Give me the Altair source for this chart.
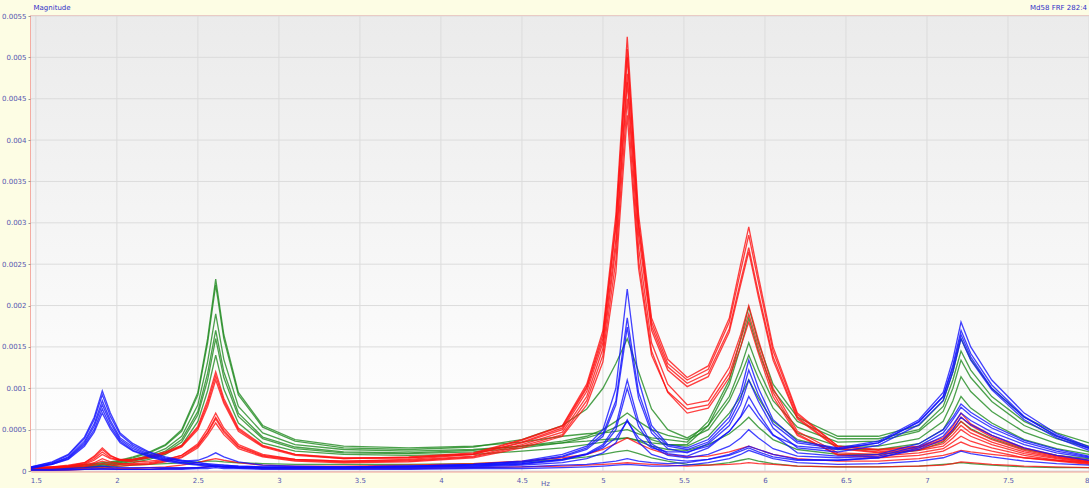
import altair as alt
import pandas as pd

# Frequency grid (Hz), denser around the resonances
freq = [1.47, 1.6, 1.7, 1.8, 1.86, 1.91, 1.96, 2.02, 2.1, 2.2,
        2.3, 2.4, 2.5, 2.56, 2.61, 2.66, 2.75, 2.9, 3.1, 3.4,
        3.8, 4.2, 4.5, 4.75, 4.9, 5.0, 5.08, 5.15, 5.22, 5.3,
        5.4, 5.52, 5.65, 5.78, 5.85, 5.9, 5.96, 6.05, 6.2, 6.45,
        6.7, 6.95, 7.1, 7.16, 7.21, 7.27, 7.4, 7.6, 7.8, 8.0]

# FRF magnitudes in units of 1e-4, one list per measurement channel
red = {
    "R1": [0.4,0.5,0.7,1.0,1.7,2.6,1.8,1.4,1.4,1.7,2.2,3.0,5.2,8.2,11.5,8.5,5.0,3.0,2.0,1.5,1.7,2.2,3.8,5.5,10.5,17,31,52.5,31,18.5,13.5,11.3,12.7,18.5,25,29.5,23.5,15,7,3.0,2.6,3.0,4.0,5.4,7.0,5.7,4.3,2.8,1.9,1.3],
    "R2": [0.4,0.5,0.6,0.9,1.5,2.3,1.6,1.3,1.3,1.6,2.1,2.9,5.0,7.8,11.0,8.2,4.8,2.9,1.9,1.5,1.6,2.1,3.7,5.4,10.2,16.5,30,51,30,18,13,11,12.3,18,24.2,28.5,22.8,14.5,6.8,3.0,2.5,2.9,3.8,5.1,6.5,5.5,4.1,2.7,1.8,1.2],
    "R3": [0.3,0.4,0.6,1.0,1.8,2.8,1.9,1.3,1.1,1.2,1.4,1.9,3.1,4.7,6.5,4.9,3.0,1.9,1.4,1.2,1.4,2.0,3.5,5.2,10,16,29.5,50,29.5,17.5,12.6,10.6,11.8,17.2,23,27,21.5,13.8,6.5,2.8,2.3,2.8,3.6,4.8,6.0,5.0,3.8,2.5,1.7,1.1],
    "R4": [0.4,0.5,0.6,0.8,1.3,2.0,1.5,1.3,1.4,1.8,2.3,3.1,5.4,8.6,12,8.8,5.2,3.1,2.0,1.6,1.6,2.0,3.4,5.0,9.6,15.5,28,48,28.5,17,12.2,10.2,11.4,16.8,22.5,26.5,21,13.4,6.3,2.7,2.2,2.6,3.3,4.4,5.5,4.6,3.5,2.3,1.6,1.1],
    "R5": [0.3,0.4,0.5,0.7,1.0,1.5,1.1,0.9,0.9,1.0,1.3,1.9,3.3,5.1,7.0,5.2,3.2,2.0,1.4,1.2,1.3,1.8,3.2,4.7,9,14.8,27,47,27,15.5,10.5,8.0,8.5,12.5,16.5,20,15.8,10,4.8,2.2,2.0,2.5,3.0,4.0,5.0,4.2,3.2,2.1,1.5,1.0],
    "R6": [0.3,0.3,0.4,0.6,0.9,1.2,0.9,0.8,0.8,0.9,1.2,1.7,3.0,4.6,6.3,4.7,2.9,1.8,1.3,1.1,1.2,1.7,3.0,4.4,8.5,14,25.5,45,25.5,14.5,9.5,7.0,7.6,11.3,15,18,14.2,9,4.3,2.0,1.8,2.2,2.7,3.5,4.2,3.6,2.8,1.9,1.3,0.9],
    "R7": [0.2,0.3,0.4,0.5,0.7,0.9,0.7,0.6,0.7,0.8,1.1,1.6,2.8,4.3,5.8,4.4,2.7,1.7,1.2,1.0,1.1,1.6,2.8,4.2,8,13.2,24,43,24.5,14,9.6,7.5,8.0,11.8,15.8,19,15,9.5,4.5,1.9,1.6,1.9,2.4,3.0,3.5,3.0,2.4,1.6,1.2,0.8],
    "R8": [0.1,0.1,0.2,0.3,0.4,0.5,0.4,0.3,0.3,0.4,0.5,0.7,1.0,1.3,1.5,1.3,1.0,0.7,0.6,0.6,0.7,0.9,1.2,1.6,2.0,2.6,3.3,4.0,3.3,2.6,2.0,1.7,1.8,2.3,2.7,3.0,2.6,2.0,1.5,1.2,1.2,1.5,1.9,2.2,2.5,2.3,2.0,1.6,1.3,1.0],
    "R9": [0.1,0.1,0.1,0.2,0.2,0.3,0.2,0.2,0.2,0.2,0.3,0.3,0.4,0.5,0.6,0.5,0.4,0.3,0.3,0.3,0.3,0.4,0.5,0.6,0.7,0.8,0.9,1.0,0.9,0.8,0.7,0.6,0.7,0.8,0.9,1.0,0.9,0.8,0.6,0.5,0.5,0.6,0.7,0.9,1.1,1.0,0.8,0.6,0.5,0.4],
}

green = {
    "G1": [0.3,0.4,0.6,0.8,0.9,1.0,1.1,1.3,1.7,2.3,3.2,5,9.5,16,23.2,16.5,9.5,5.5,3.8,3.0,2.8,3.0,3.5,4.2,4.5,4.6,4.8,5.0,4.5,4.0,3.8,3.5,6.0,11,16,19.8,15.5,10.5,6.5,4.2,4.2,5.5,8.5,12,16,13.5,10,6.5,4.6,3.4],
    "G2": [0.3,0.4,0.5,0.7,0.8,0.9,1.0,1.2,1.6,2.2,3.1,4.8,9.2,15.5,22.5,16,9.2,5.3,3.6,2.8,2.6,2.9,3.8,5.5,7.5,10,13,16,12,7.5,5.0,4.0,5.5,9,12.5,15.5,12.3,8.5,5.3,3.5,3.6,4.8,7.2,10,13.4,11.3,8.4,5.5,3.9,2.8],
    "G3": [0.2,0.3,0.5,0.6,0.7,0.8,0.9,1.1,1.4,1.9,2.7,4.2,8,13.2,19,13.5,7.8,4.6,3.2,2.6,2.4,2.6,3.0,3.4,3.6,3.8,3.9,4.0,3.7,3.4,3.2,3.2,5.5,10.5,15,18.5,14.5,9.8,6.0,3.9,3.9,5.0,7.8,11,14.5,12.2,9,6,4.2,3.0],
    "G4": [0.2,0.3,0.4,0.5,0.6,0.7,0.8,1.0,1.3,1.7,2.4,3.8,7.2,11.8,17,12,7.0,4.1,2.9,2.3,2.2,2.5,3.0,3.6,4.2,5.0,6.0,7.0,6.0,5.0,4.3,3.8,5.0,8.5,11.5,14,11.2,7.6,4.6,3.0,3.0,3.9,6,8.5,11.4,9.6,7.2,4.7,3.3,2.3],
    "G5": [0.2,0.3,0.4,0.5,0.6,0.6,0.7,0.9,1.2,1.6,2.2,3.5,6.8,11,16,11.3,6.6,3.9,2.7,2.2,2.1,2.3,2.8,3.4,4.0,4.6,5.3,6.0,4.8,3.8,3.2,3.0,4.2,7,9,11,8.8,6.0,3.8,2.6,2.6,3.3,5,7,9,7.6,5.8,3.8,2.7,2.0],
    "G6": [0.2,0.2,0.3,0.4,0.5,0.5,0.6,0.8,1.0,1.4,2.0,3.1,6,9.7,14,9.9,5.8,3.4,2.4,2.0,1.9,2.0,2.4,2.8,3.2,3.5,3.8,4.0,3.6,3.0,2.6,2.5,3.2,4.5,5.6,6.5,5.3,3.8,2.6,2.0,2.0,2.5,3.5,4.8,6,5.1,3.9,2.6,1.9,1.5],
    "G7": [0.3,0.3,0.4,0.4,0.5,0.5,0.5,0.6,0.7,0.8,0.9,1.0,1.1,1.2,1.2,1.1,1.0,0.9,0.8,0.8,0.8,0.9,1.1,1.4,1.7,2.0,2.3,2.5,2.1,1.6,1.2,0.8,0.7,1.0,1.3,1.5,1.2,0.9,0.6,0.5,0.5,0.6,0.8,0.9,1.0,0.9,0.7,0.5,0.4,0.4],
}

blue = {
    "B1": [0.5,1.1,2.0,4.1,6.5,9.7,7.0,4.6,3.3,2.3,1.7,1.3,1.0,0.9,0.8,0.7,0.6,0.5,0.5,0.5,0.6,0.8,1.2,2.0,3.0,5.0,10,22,11,5.5,3.2,2.8,3.8,6.5,9.5,13.4,10,6.2,3.6,2.8,3.6,6.2,9.5,13.5,18,15,11,7,4.5,2.9],
    "B2": [0.5,1.0,1.9,3.9,6.2,9.2,6.6,4.4,3.1,2.2,1.6,1.2,1.0,0.8,0.7,0.7,0.6,0.5,0.5,0.5,0.6,0.8,1.1,1.8,2.8,4.5,8.5,18.5,9.5,5.0,3.0,2.6,3.5,6.0,8.7,12.2,9.2,5.7,3.4,2.7,3.4,5.9,9,12.8,17,14.2,10.4,6.6,4.2,2.7],
    "B3": [0.4,0.9,1.7,3.6,5.7,8.5,6.1,4.0,2.9,2.0,1.5,1.2,1.3,1.7,2.2,1.7,1.1,0.7,0.6,0.5,0.6,0.7,1.0,1.7,2.6,4.2,8,17.4,8.8,4.6,2.7,2.2,3.3,5.5,8,11,8.4,5.2,2.8,2.3,3.1,5.6,8.5,12,16,13.4,9.8,6.2,4.0,2.5],
    "B4": [0.4,0.9,1.6,3.4,5.4,8.0,5.8,3.8,2.7,1.9,1.4,1.0,0.8,0.7,0.6,0.6,0.5,0.4,0.4,0.4,0.5,0.7,0.9,1.4,2.1,3.2,5.5,11,6,3.3,2.1,1.8,2.8,4.8,6.6,9,7,4.4,2.2,1.8,2.0,3.3,5,6.5,8.1,7.1,5.5,3.7,2.6,1.8],
    "B5": [0.4,0.8,1.5,3.2,5.0,7.5,5.4,3.6,2.5,1.8,1.3,1.0,0.8,0.7,0.6,0.5,0.5,0.4,0.4,0.4,0.5,0.6,0.8,1.3,2.0,3.0,5.0,10,5.4,3.0,1.9,1.6,2.0,3.0,4.0,5.0,4.0,2.7,1.8,1.6,1.8,3.0,4.6,6.2,7.7,6.7,5.2,3.5,2.4,1.7],
    "B6": [0.3,0.8,1.4,3.0,4.7,7.0,5.1,3.4,2.4,1.7,1.2,0.9,0.7,0.6,0.5,0.5,0.4,0.4,0.4,0.4,0.4,0.5,0.7,1.0,1.5,2.2,3.4,6.2,3.5,2.0,1.4,1.2,1.4,1.9,2.4,2.8,2.3,1.7,1.3,1.3,1.6,2.8,4.2,5.6,7.0,6.1,4.7,3.2,2.2,1.6],
    "B7": [0.2,0.2,0.3,0.4,0.5,0.6,0.5,0.4,0.4,0.4,0.4,0.4,0.4,0.5,0.6,0.5,0.4,0.4,0.4,0.4,0.5,0.6,0.9,1.4,2.0,2.8,4.0,6.0,4.0,2.8,2.3,2.3,3.0,4.8,6.5,8.0,6.4,4.3,3.0,2.6,3.4,6.0,9,12.5,16.5,13.8,10,6.5,4.3,2.8],
    "B8": [0.1,0.1,0.2,0.2,0.3,0.3,0.3,0.2,0.2,0.2,0.3,0.3,0.4,0.5,0.6,0.5,0.4,0.3,0.3,0.3,0.3,0.4,0.5,0.7,0.8,1.0,1.2,1.5,1.2,1.0,0.9,1.0,1.4,2.0,2.6,3.0,2.6,2.0,1.4,1.3,1.6,2.6,3.8,5.0,6.5,5.6,4.3,2.8,1.9,1.3],
    "B9": [0.1,0.1,0.1,0.2,0.2,0.2,0.2,0.2,0.2,0.2,0.2,0.2,0.3,0.3,0.4,0.3,0.3,0.2,0.2,0.2,0.2,0.3,0.3,0.4,0.5,0.6,0.7,0.8,0.7,0.6,0.6,0.7,1.0,1.5,2.0,2.5,2.1,1.5,1.0,0.8,0.9,1.2,1.6,2.0,2.4,2.1,1.7,1.2,0.9,0.7],
}

x_ticks = [1.5, 2, 2.5, 3, 3.5, 4, 4.5, 5, 5.5, 6, 6.5, 7, 7.5, 8]
y_ticks = [0, 0.0005, 0.001, 0.0015, 0.002, 0.0025, 0.003, 0.0035,
           0.004, 0.0045, 0.005, 0.0055]

W, H = 1058, 455
X_DOM = [1.47, 8.0]
Y_DOM = [0, 0.0055]

groups = [("green", "#1f8a1f", green), ("red", "#ff1010", red), ("blue", "#1010ff", blue)]

x_scale = alt.Scale(domain=X_DOM, nice=False, zero=False)
y_scale = alt.Scale(domain=Y_DOM, nice=False)

label_color = "#5555b0"
x_axis = alt.Axis(values=x_ticks, labelExpr="format(datum.value, '~g')", grid=False,
                  domainColor="#f2a29a", domainWidth=2, tickSize=0, labelPadding=5,
                  labelFontSize=7, labelColor=label_color, labelFont="DejaVu Sans",
                  title="Hz", titleFontSize=7, titleColor=label_color, titleFont="DejaVu Sans",
                  titleFontWeight="normal", titleX=514, titleY=14, titleAlign="center",
                  titleBaseline="alphabetic")
y_axis = alt.Axis(values=y_ticks, labelExpr="format(datum.value, '~g')", grid=False,
                  domainColor="#f2a29a", domainWidth=2, tickSize=3, tickColor="#999999",
                  labelPadding=2, labelFontSize=7, labelColor=label_color,
                  labelFont="DejaVu Sans", title="Magnitude", titleAngle=0,
                  titleX=2, titleY=-7, titleAlign="left", titleBaseline="alphabetic",
                  titleFontSize=7, titleColor="#3030c8", titleFont="DejaVu Sans",
                  titleFontWeight="normal")

# Plot-area shading: light grey at the top fading to white
bg = alt.Chart(pd.DataFrame({"k": [0]})).mark_rect(
    fill={"gradient": "linear", "x1": 0, "x2": 0, "y1": 0, "y2": 1,
          "stops": [{"offset": 0, "color": "#ebebeb"},
                    {"offset": 0.75, "color": "#fbfbfb"},
                    {"offset": 1, "color": "#ffffff"}]}
).encode(x=alt.value(0), x2=alt.value(W), y=alt.value(0), y2=alt.value(H))

grid_x = alt.Chart(pd.DataFrame({"t": x_ticks})).mark_rule(
    color="#dcdcdc", strokeWidth=1).encode(x=alt.X("t:Q", scale=x_scale, axis=x_axis))
grid_y = alt.Chart(pd.DataFrame({"t": y_ticks})).mark_rule(
    color="#dcdcdc", strokeWidth=1).encode(y=alt.Y("t:Q", scale=y_scale, axis=y_axis))

layers = [bg, grid_x, grid_y]
for gname, gcolor, curves in groups:
    rows = []
    for cname, vals in curves.items():
        for f, v in zip(freq, vals):
            rows.append({"Hz": f, "mag": v * 1e-4, "curve": cname})
    df = pd.DataFrame(rows)
    layers.append(
        alt.Chart(df).mark_line(color=gcolor, strokeWidth=1.3, opacity=0.8, clip=True).encode(
            x=alt.X("Hz:Q", scale=x_scale, axis=x_axis),
            y=alt.Y("mag:Q", scale=y_scale, axis=y_axis),
            detail="curve:N",
        )
    )

corner = alt.Chart(pd.DataFrame({"s": ["Md58 FRF 282:4"]})).mark_text(
    align="right", baseline="alphabetic", fontSize=7, color="#3030c8", font="DejaVu Sans"
).encode(x=alt.value(W - 2), y=alt.value(-6), text="s:N")
layers.append(corner)

chart = alt.layer(*layers).properties(
    width=W, height=H,
    autosize=alt.AutoSizeParams(type="none"),
    padding={"left": 31, "top": 16, "right": 0, "bottom": 17},
    background="#fdfde4",
).configure_view(stroke="#f2a29a", strokeWidth=1.5)

chart.save("out.html", embed_options={"renderer": "svg", "actions": False})
